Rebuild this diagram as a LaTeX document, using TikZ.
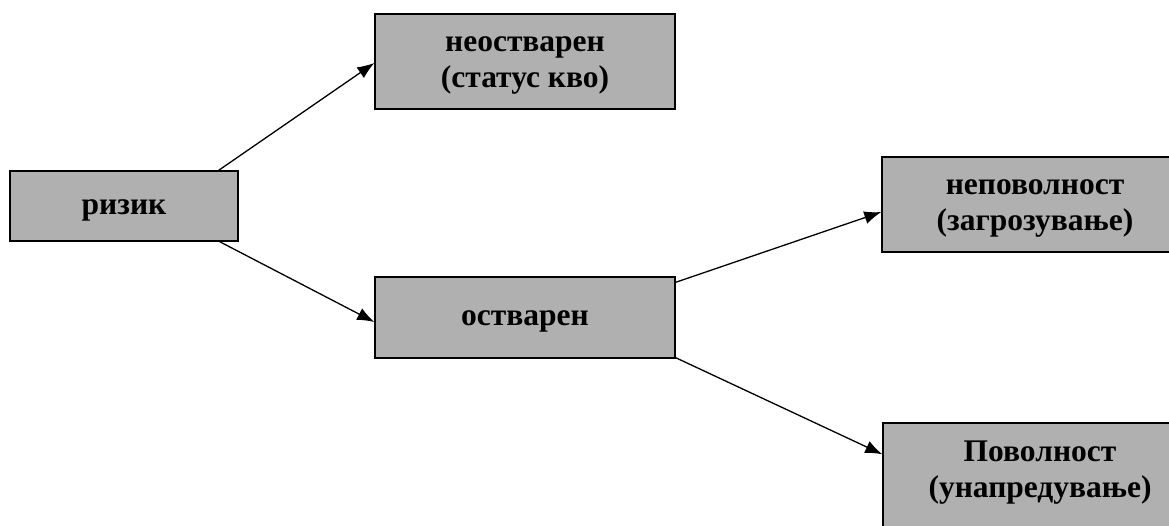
\documentclass[tikz,border=0pt]{standalone}
\usepackage{fontspec}
\setmainfont{Liberation Serif}
\usetikzlibrary{arrows.meta,calc}
\definecolor{boxgray}{RGB}{176,176,176}
\tikzset{
  box/.style={draw=black, line width=1.4pt, fill=boxgray, inner sep=0pt},
  caption/.style={font=\fontsize{31.5}{36}\selectfont\bfseries, align=center,
    inner sep=0pt, yshift=-4pt},
  link/.style={line width=1.3pt, -{Latex[length=17pt,width=13pt]}}
}
\begin{document}
\begin{tikzpicture}[x=1pt,y=-1pt]
  \useasboundingbox (0,0) rectangle (1169,526);
  \clip (0,0) rectangle (1169,526);

  % decision boxes, each with its caption set slightly below centre
  \node[box, minimum width=228pt, minimum height=70pt,
        label={[caption]center:ризик}] (risk) at (124,206) {};
  \node[box, minimum width=300pt, minimum height=95pt,
        label={[caption]center:неостварен\\(статус кво)}] (neo) at (525,61.5) {};
  \node[box, minimum width=300pt, minimum height=81pt,
        label={[caption]center:остварен}] (ost) at (525,317.5) {};
  \node[box, minimum width=306pt, minimum height=95pt,
        label={[caption]center:неповолност\\(загрозување)}] (nepov) at (1035,204.5) {};
  \node[box, minimum width=314pt, minimum height=120pt,
        label={[caption,yshift=14pt]center:Поволност\\(унапредување)}] (pov) at (1040,483) {};

  % branches
  \draw[link] ($(risk.north east)+(-20,0)$) -- ($(neo.west)+(0,1.5)$);
  \draw[link] ($(risk.south east)+(-19,0)$) -- ($(ost.west)+(0,4.5)$);
  \draw[link] ($(ost.north east)+(0,6)$) -- ($(nepov.west)+(0,7.5)$);
  \draw[link] ($(ost.south east)+(0,-1)$) -- ($(pov.north west)+(0,32)$);
\end{tikzpicture}
\end{document}
